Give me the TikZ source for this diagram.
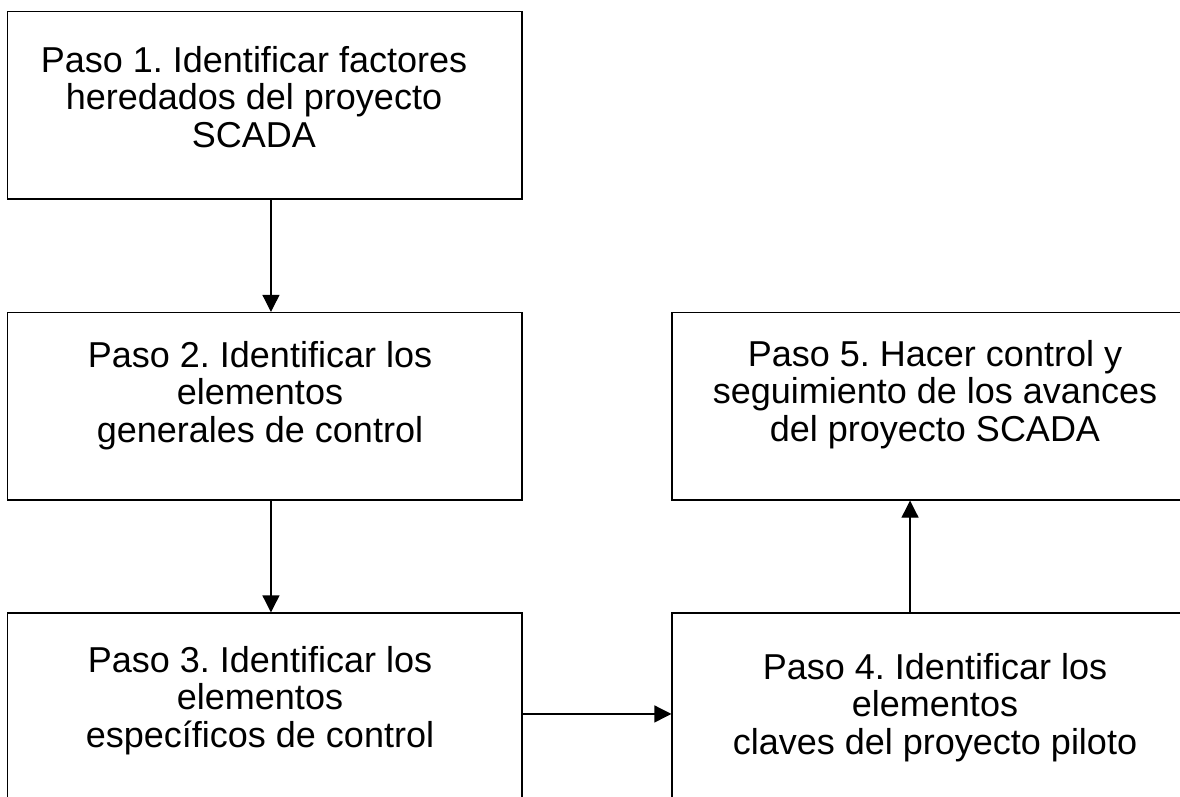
\documentclass[tikz,border=0pt]{standalone}
\usepackage{fontspec}
\setmainfont{Liberation Sans}
\usepackage{tikz}
\usetikzlibrary{positioning}
\usetikzlibrary{arrows.meta}
\frenchspacing

\begin{document}
\begin{tikzpicture}[x=0.5pt,y=-0.5pt]

            \tikzstyle{stepBox} = [draw, line width=0.6pt, minimum width=257.25pt, minimum height=93.75pt, inner sep=0pt];
            \tikzstyle{stepText} = [anchor=north, inner sep=0pt, align=center, font=\fontsize{18}{18.75}\selectfont];
            \tikzstyle{flow} = [line width=0.6pt, -{Triangle[length=8.5pt,width=8.5pt]}];

            \useasboundingbox (0,0) rectangle (1180,797);

            \node[stepBox] (s1) at (264.75,105.35) {};
            \node[stepBox] (s2) at (264.75,406.25) {};
            \node[stepBox] (s3) at (264.75,706.75) {};
            \node[stepBox] (s4) at (929.25,706.75) {};
            \node[stepBox] (s5) at (929.25,406.25) {};

            \node[stepText] (t1) at (254,46) {Paso 1. Identificar factores\\heredados del proyecto\\SCADA};
            \node[stepText] (t2) at (260,341) {Paso 2. Identificar los\\elementos\\generales de control};
            \node[stepText] (t3) at (260,646) {Paso 3. Identificar los\\elementos\\específicos de control};
            \node[stepText] (t4) at (935,653) {Paso 4. Identificar los\\elementos\\claves del proyecto piloto};
            \node[stepText] (t5) at (935,340) {Paso 5. Hacer control y\\seguimiento de los avances\\del proyecto SCADA};

            \draw[flow] ([xshift=3.1pt]s1.south) -- ([xshift=3.1pt]s2.north);
            \draw[flow] ([xshift=3.1pt]s2.south) -- ([xshift=3.1pt]s3.north);
            \draw[flow] ([yshift=-3.6pt]s3.east) -- ([yshift=-3.6pt]s4.west);
            \draw[flow] ([xshift=-9.6pt]s4.north) -- ([xshift=-9.6pt]s5.south);
\end{tikzpicture}
\end{document}
